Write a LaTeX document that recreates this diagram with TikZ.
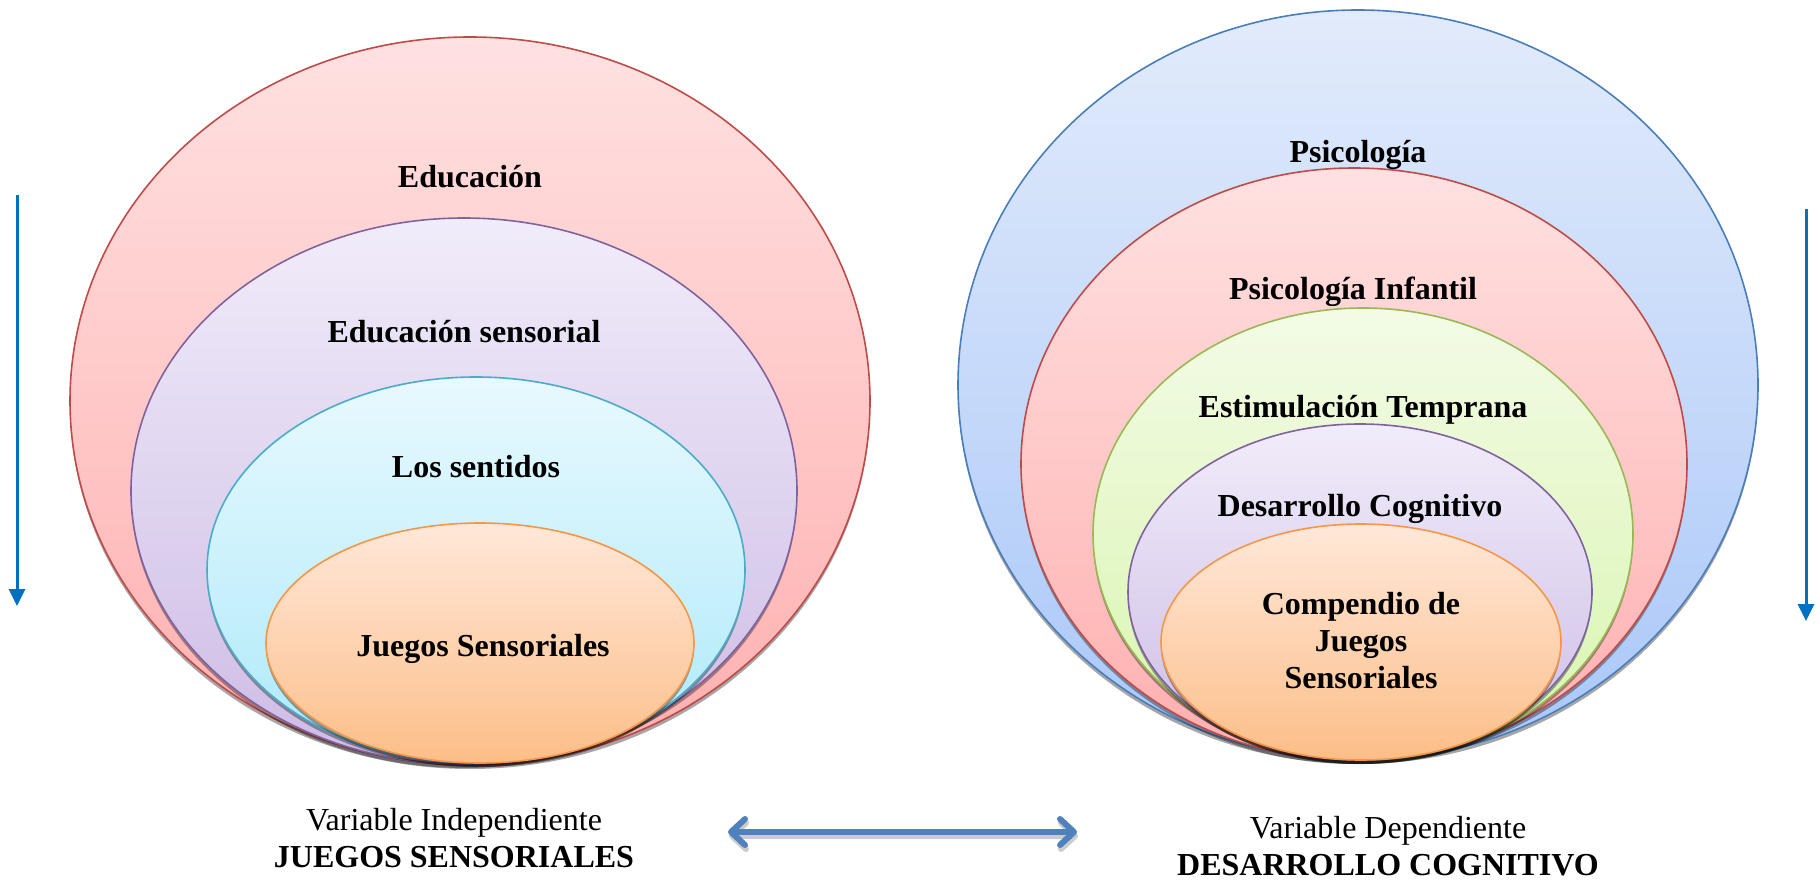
\documentclass[tikz,border=0pt]{standalone}
\usepackage{fontspec}
\setmainfont{Liberation Serif}
\usetikzlibrary{shapes.geometric,shadows,arrows.meta}
\definecolor{redTop}{HTML}{FFE1E1}\definecolor{redBot}{HTML}{FFAFAF}\definecolor{redBd}{HTML}{BE4B48}
\definecolor{purTop}{HTML}{F1ECFA}\definecolor{purBot}{HTML}{CDBCE5}\definecolor{purBd}{HTML}{7F63A1}
\definecolor{cyaTop}{HTML}{E8F9FE}\definecolor{cyaBot}{HTML}{ADE9FA}\definecolor{cyaBd}{HTML}{4AACC6}
\definecolor{oraTop}{HTML}{FFE8D9}\definecolor{oraBot}{HTML}{FCBE88}\definecolor{oraBd}{HTML}{F79646}
\definecolor{bluTop}{HTML}{E2EBFB}\definecolor{bluBot}{HTML}{A9C7F8}\definecolor{bluBd}{HTML}{4A7EBB}
\definecolor{grnTop}{HTML}{F3FBE6}\definecolor{grnBot}{HTML}{D8F5AE}\definecolor{grnBd}{HTML}{98B954}
\definecolor{arrowBlue}{HTML}{0070C0}
\definecolor{dblBlue}{HTML}{4F81BD}
\begin{document}
\begin{tikzpicture}[x=1pt,y=-1pt,
  oval/.style={ellipse, inner sep=0pt, outer sep=0pt, line width=1.6pt,
    drop shadow={shadow xshift=0pt, shadow yshift=-4pt, opacity=0.35, fill=black}},
  redO/.style={oval, draw=redBd, top color=redTop, bottom color=redBot},
  purO/.style={oval, draw=purBd, top color=purTop, bottom color=purBot},
  cyaO/.style={oval, draw=cyaBd, top color=cyaTop, bottom color=cyaBot},
  oraO/.style={oval, draw=oraBd, top color=oraTop, bottom color=oraBot},
  bluO/.style={oval, draw=bluBd, top color=bluTop, bottom color=bluBot},
  grnO/.style={oval, draw=grnBd, top color=grnTop, bottom color=grnBot},
  lbl/.style={font=\fontsize{32}{37}\selectfont\bfseries, align=center, inner sep=0pt},
  varlbl/.style={font=\fontsize{32}{37}\selectfont, align=center, inner sep=0pt},
  varrow/.style={draw=arrowBlue, line width=3pt, -{Triangle[width=16pt,length=17pt]}},
  dblarrow/.style={draw=dblBlue, line width=6pt,
    {Straight Barb[length=14pt,width=26pt,round]}-{Straight Barb[length=14pt,width=26pt,round]}},
  dblshadow/.style={draw=black, opacity=0.2, line width=6pt,
    {Straight Barb[length=14pt,width=26pt,round]}-{Straight Barb[length=14pt,width=26pt,round]}}
]
\useasboundingbox (0,0) rectangle (1820,882);

% left group
\node[redO, minimum width=800pt, minimum height=728pt] (edu) at (470,401) {};
\node[purO, minimum width=666pt, minimum height=546pt] (eduS) at (464,491) {};
\node[cyaO, minimum width=538pt, minimum height=386pt] (sent) at (476,570) {};
\node[oraO, minimum width=428pt, minimum height=240pt] (jueg) at (480,643) {};

\node[lbl] (tEdu) at (470,177) {Educación};
\node[lbl] (tEduS) at (464,332) {Educación sensorial};
\node[lbl] (tSent) at (476,467) {Los sentidos};
\node[lbl] (tJueg) at (483,649) {Juegos Sensoriales};

% right group
\node[bluO, minimum width=800pt, minimum height=750pt] (psi) at (1358,385) {};
\node[redO, minimum width=666pt, minimum height=592pt] (psiI) at (1354,464) {};
\node[grnO, minimum width=540pt, minimum height=452pt] (est) at (1363,534) {};
\node[purO, minimum width=464pt, minimum height=336pt] (des) at (1360,592) {};
\node[oraO, minimum width=400pt, minimum height=236pt] (comp) at (1361,642) {};

\node[lbl] (tPsi) at (1358,155) {Psicología};
\node[lbl] (tPsiI) at (1353,292) {Psicología Infantil};
\node[lbl] (tEst) at (1363,410) {Estimulación Temprana};
\node[lbl] (tDes) at (1360,509) {Desarrollo Cognitivo};
\node[lbl] (tComp) at (1361,641) {Compendio de\\Juegos\\Sensoriales};

% variable labels
\node[varlbl] (vInd) at (454,838) {Variable Independiente\\\textbf{JUEGOS SENSORIALES}};
\node[varlbl] (vDep) at (1388,846) {Variable Dependiente\\\textbf{DESARROLLO COGNITIVO}};

% arrows
\coordinate (aL1) at (17,195);
\coordinate (aL2) at (17,606);
\coordinate (aR1) at (1806,209);
\coordinate (aR2) at (1806,621);
\draw[varrow] (aL1) -- (aL2);
\draw[varrow] (aR1) -- (aR2);

\coordinate (dA) at (728,832);
\coordinate (dB) at (1077,832);
\draw[dblshadow, transform canvas={xshift=1pt,yshift=-4pt}] (dA) -- (dB);
\draw[dblarrow] (dA) -- (dB);
\end{tikzpicture}
\end{document}
